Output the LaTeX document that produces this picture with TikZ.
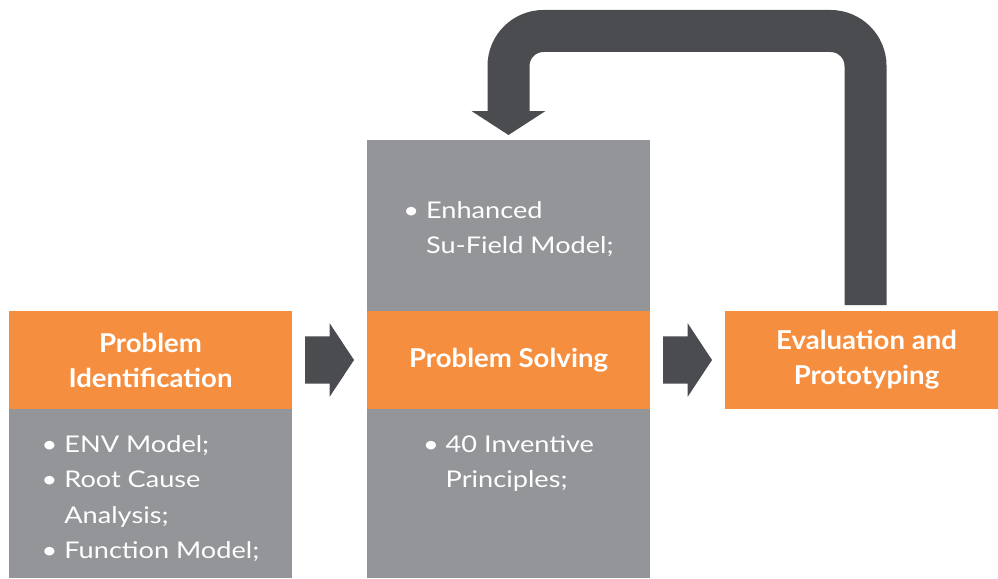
\documentclass[tikz,border=0pt]{standalone}
\usepackage{fontspec}
\setmainfont{Lato}[FakeStretch=1.18]
\newfontfamily\headfont{Lato}[FakeStretch=1.06]
\usetikzlibrary{arrows.meta, positioning, shapes.arrows}

\definecolor{trizorange}{HTML}{F68E3F}
\definecolor{trizgray}{HTML}{939598}
\definecolor{trizdark}{HTML}{4B4C50}

\begin{document}
\begin{tikzpicture}[
    x=1pt, y=1pt,
    titlebox/.style={
        fill=trizorange,
        minimum width=283pt,
        minimum height=98pt,
        inner sep=0pt, outer sep=0pt,
        align=center,
        text=white,
        font=\headfont\fontsize{26}{35}\selectfont\bfseries
    },
    panel/.style={
        fill=trizgray,
        minimum width=283pt,
        inner sep=0pt, outer sep=0pt
    },
    bullets/.style={
        align=left,
        text=white,
        inner sep=0pt,
        font=\fontsize{23}{35.5}\selectfont
    },
    flow/.style={
        single arrow,
        fill=trizdark,
        minimum height=49pt,
        single arrow head extend=13pt,
        single arrow tip angle=113,
        inner xsep=0pt, inner ysep=23.5pt, outer sep=0pt
    },
    feedback/.style={trizdark, line width=42pt, rounded corners=35pt}
]
\useasboundingbox (0,0) rectangle (998,-578);

% Stages
\node[titlebox] (pidhead) at (150.5,-360) {Problem\\Identification};
\node[panel, minimum height=169pt, below=0pt of pidhead] (pidbody) {};
\node[flow, right=13pt of pidhead] (arrA) {};
\node[titlebox, right=13pt of arrA] (pshead) {Problem Solving};
\node[panel, minimum height=171pt, above=0pt of pshead] (pstop) {};
\node[panel, minimum height=169pt, below=0pt of pshead] (psbody) {};
\node[flow, right=13pt of pshead] (arrB) {};
\node[titlebox, right=13pt of arrB] (evalhead) {Evaluation and\\Prototyping};

% Tools in each stage
\node[bullets, below=26pt of pidbody.north] (pidlist) {\textbullet\ ENV Model;\\
\textbullet\ Root Cause\\
\phantom{\textbullet\ }Analysis;\\
\textbullet\ Function Model;};
\node[bullets, below=61pt of pstop.north] (pslistA) {\textbullet\ Enhanced\\
\phantom{\textbullet\ }Su-Field Model;};
\node[bullets, below=26pt of psbody.north] (pslistB) {\textbullet\ 40 Inventive\\
\phantom{\textbullet\ }Principles;};

% Feedback loop
\draw[feedback] ([xshift=-1pt,yshift=6pt]evalhead.north) |- ([yshift=109pt]pstop.north) -- ([yshift=29pt]pstop.north);
\fill[trizdark] ([xshift=-37pt,yshift=29pt]pstop.north) -- ([xshift=37pt,yshift=29pt]pstop.north) -- ([yshift=5pt]pstop.north) -- cycle;

\end{tikzpicture}
\end{document}
